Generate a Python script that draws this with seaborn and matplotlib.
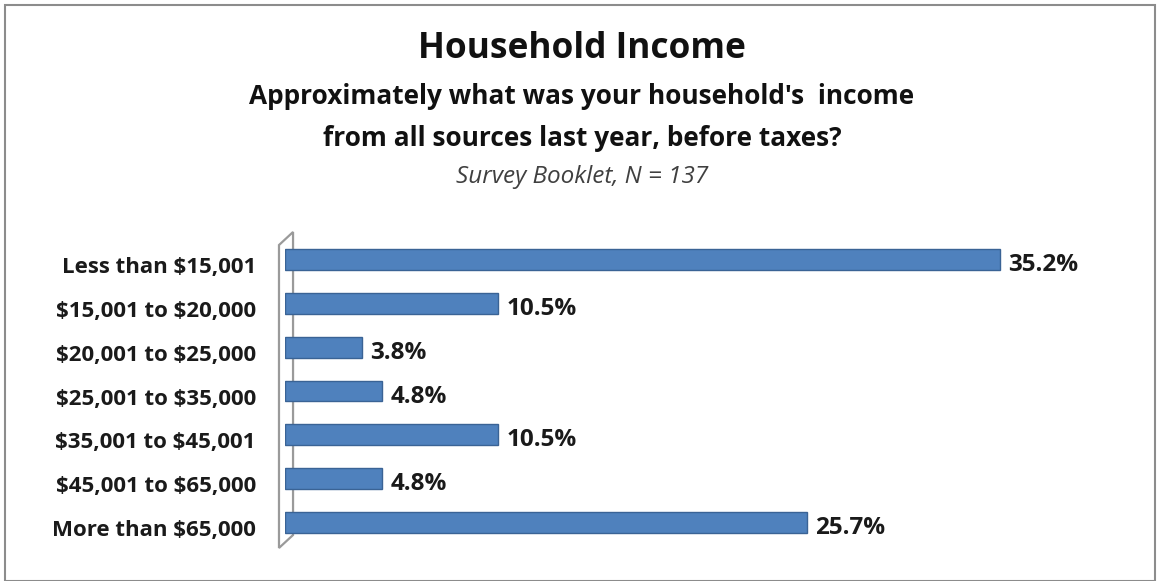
import matplotlib
matplotlib.use("Agg")
import matplotlib.pyplot as plt
import matplotlib.transforms as mtransforms
import seaborn as sns
import pandas as pd
from matplotlib.patches import Rectangle, Polygon

categories = ["Less than $15,001", "$15,001 to $20,000", "$20,001 to $25,000",
              "$25,001 to $35,000", "$35,001 to $45,001", "$45,001 to $65,000",
              "More than $65,000"]
values = [35.2, 10.5, 3.8, 4.8, 10.5, 4.8, 25.7]
value_labels = ["35.2%", "10.5%", "3.8%", "4.8%", "10.5%", "4.8%", "25.7%"]

df = pd.DataFrame({"category": categories, "value": values})

sns.set_theme(style="white")
plt.rcParams["font.family"] = ["Open Sans", "DejaVu Sans"]
plt.rcParams["text.parse_math"] = False

W, H = 1159, 581
fig = plt.figure(figsize=(W / 100, H / 100), dpi=100)
ax = fig.add_axes([285 / W, 1 - 544 / H, (1097 - 285) / W, (544 - 238) / H])

sns.barplot(data=df, x="value", y="category", orient="h", color="#4F81BD",
            saturation=1, width=0.48, edgecolor="#3A6395", linewidth=1.0, ax=ax)

ax.set_xlim(0, 40)
ax.set_ylim(6.5, -0.5)
ax.set_xlabel("")
ax.set_ylabel("")
ax.set_xticks([])
for s in ax.spines.values():
    s.set_visible(False)
ax.tick_params(axis="y", length=0, pad=21)
shift = mtransforms.ScaledTranslation(0, -4 / 72, fig.dpi_scale_trans)
for t in ax.get_yticklabels():
    t.set_fontsize(16)
    t.set_fontweight("bold")
    t.set_color("#1a1a1a")
    t.set_transform(t.get_transform() + shift)

for i, (v, lab) in enumerate(zip(values, value_labels)):
    ax.annotate(lab, xy=(v, i), xytext=(6, -4), textcoords="offset points",
                va="center", ha="left", fontsize=17.5, fontweight="bold", color="#1a1a1a")

# 3D-style left wall
wall = Polygon([(-0.0074, -0.013), (-0.0074, 0.977), (0.0099, 1.0196), (0.0099, 0.0294)],
               closed=True, fill=False, edgecolor="#9a9a9a", linewidth=1.6,
               transform=ax.transAxes, clip_on=False, zorder=0)
ax.add_patch(wall)

# figure border
fig.patches.append(Rectangle((5 / W, 0), (1155 - 5) / W, 1 - 5 / H, transform=fig.transFigure,
                             fill=False, edgecolor="#8c8c8c", linewidth=1.5))

cx = 582 / W
fig.text(cx, 1 - 49 / H, "Household Income", ha="center", va="center",
         fontsize=25.4, fontweight="bold", color="#111111")
fig.text(cx, 1 - 97 / H, "Approximately what was your household's  income", ha="center",
         va="center", fontsize=18.9, fontweight="bold", color="#111111")
fig.text(cx, 1 - 139 / H, "from all sources last year, before taxes?", ha="center",
         va="center", fontsize=18.9, fontweight="bold", color="#111111")
fig.text(cx, 1 - 177 / H, "Survey Booklet, N = 137", ha="center", va="center",
         fontsize=17.5, fontstyle="italic", color="#404040")

fig.savefig("out.png", dpi=100)
